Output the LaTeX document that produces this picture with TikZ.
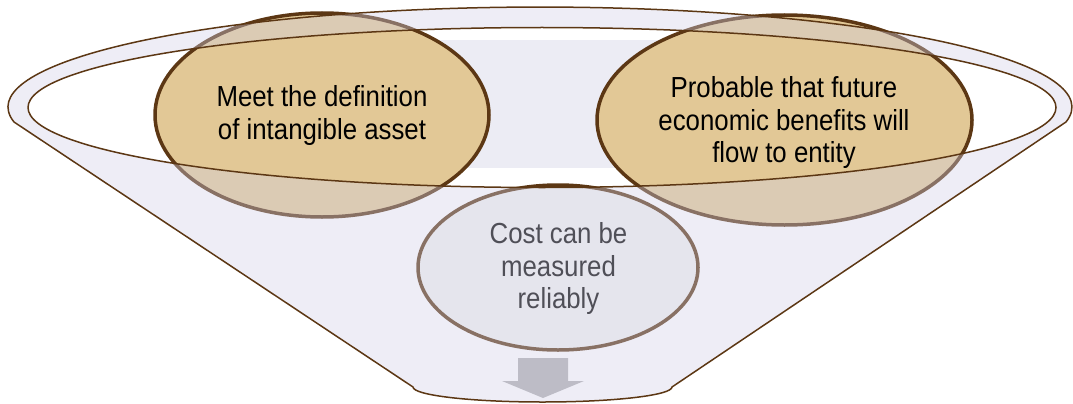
\documentclass[tikz,border=0pt]{standalone}
\usepackage{fontspec}
\setmainfont[FakeStretch=0.89]{Liberation Sans}
\usetikzlibrary{shapes.geometric}
\definecolor{tanfill}{RGB}{226,200,150}
\definecolor{darkbrown}{RGB}{92,55,20}
\definecolor{paleball}{RGB}{242,242,242}
\definecolor{funnelc}{RGB}{210,208,231}
\definecolor{backc}{RGB}{236,236,244}
\definecolor{arrowc}{RGB}{189,188,198}
\tikzset{
  circ/.style={ellipse, draw=darkbrown, fill=tanfill, line width=3.5pt, inner sep=0pt},
  bcirc/.style={ellipse, draw=darkbrown, fill=paleball, line width=3.5pt, inner sep=0pt},
  txt/.style={align=center, inner sep=0pt, text=black, font=\fontsize{29}{32.5}\selectfont},
  rim/.style={draw=darkbrown, line width=1.5pt, line join=round},
  body/.style={fill=funnelc, fill opacity=0.38, even odd rule},
}
\begin{document}
\begin{tikzpicture}[x=1pt, y=-1pt]
\useasboundingbox (0,0) rectangle (1073,404);
% corner points of the funnel
\coordinate (tl) at (14,122);
\coordinate (tr) at (1066,122);
\coordinate (br) at (672,387);
\coordinate (bl) at (413,387);
% inner back surface
\fill[backc] (250,40) rectangle (830,168);
% balls inside the funnel
\node[circ, minimum width=334pt, minimum height=204pt] (lc) at (322,115) {};
\node[circ, minimum width=375pt, minimum height=210pt] (rc) at (784.5,120) {};
\node[bcirc, minimum width=280pt, minimum height=165pt] (bc) at (558,267.5) {};
\node[txt] (lt) at (322,115.5) {Meet the definition\\of intangible asset};
\node[txt] (rt) at (784,123) {Probable that future\\economic benefits will\\flow to entity};
\node[txt] (bt) at (558.5,268.5) {Cost can be\\measured\\reliably};
% translucent funnel body
\path[body] (tl) arc[start angle=171.4, end angle=368.6, x radius=532, y radius=100]
  -- (br) arc[start angle=0, end angle=180, x radius=129.5, y radius=15] -- cycle
  (542,107.5) ellipse[x radius=514, y radius=80];
% arrow
\fill[arrowc] (518,358) -- (568,358) -- (568,381) -- (584,381) -- (543,398)
  -- (502,381) -- (518,381) -- cycle;
% outlines
\draw[rim] (tl) arc[start angle=171.4, end angle=368.6, x radius=532, y radius=100]
  -- (br) arc[start angle=0, end angle=180, x radius=129.5, y radius=15] -- cycle;
\draw[rim] (542,107.5) ellipse[x radius=514, y radius=80];
\end{tikzpicture}
\end{document}
